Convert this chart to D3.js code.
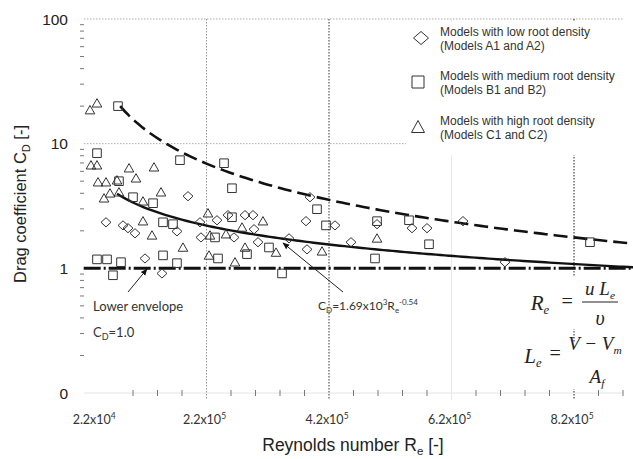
<!DOCTYPE html>
<html>
<head>
<meta charset="utf-8">
<script src="https://cdn.jsdelivr.net/npm/d3@7"></script>
<style>
  body { margin: 0; background: #fff; }
  svg { display: block; }
</style>
</head>
<body>
<svg id="chart" width="633" height="459"></svg>
<script>
// ---- measured drag coefficients -------------------------------------------
// Models A1/A2 (low root density)
const lowRe = [5.59e4, 8.37e4, 9.18e4, 1.033e5, 1.196e5, 1.473e5, 1.898e5, 1.718e5,
  2.094e5, 2.11e5, 2.371e5, 2.551e5, 2.829e5, 2.959e5, 2.649e5, 3.041e5, 2.976e5,
  3.547e5, 3.824e5, 3.841e5, 3.89e5, 4.298e5, 4.559e5, 4.984e5, 5.555e5, 5.80e5,
  6.388e5, 7.073e5];
const lowCd = [2.34, 2.21, 2.10, 1.91, 1.20, 0.91, 3.79, 1.98,
  2.34, 1.77, 2.43, 2.67, 2.67, 2.67, 1.77, 1.62, 2.06,
  1.74, 2.39, 1.42, 3.72, 2.21, 1.62, 2.26, 2.10, 2.10,
  2.39, 1.12];

// Models B1/B2 (medium root density)
const mediumRe = [7.55e4, 4.12e4, 1.767e5, 2.486e5, 2.616e5, 7.71e4, 1.0e5, 1.327e5,
  1.49e5, 1.653e5, 4.12e4, 5.76e4, 8.04e4, 6.73e4, 1.49e5, 1.718e5, 2.339e5,
  2.388e5, 2.861e5, 3.22e5, 3.433e5, 2.616e5, 4.004e5, 4.151e5, 4.984e5, 5.506e5,
  5.833e5, 4.951e5, 8.461e5];
const mediumCd = [20.0, 8.39, 7.37, 6.97, 4.39, 5.00, 3.72, 3.33,
  2.34, 2.26, 1.18, 1.18, 1.12, 0.88, 1.27, 1.10, 1.77,
  1.20, 1.30, 1.47, 0.91, 2.57, 2.98, 2.21, 2.39, 2.43,
  1.56, 1.20, 1.62];

// Models C1/C2 (high root density)
const highRe = [2.98e4, 4.12e4, 3.14e4, 4.12e4, 9.35e4, 1.343e5, 4.29e4, 5.59e4,
  7.39e4, 1.049e5, 1.457e5, 5.27e4, 6.24e4, 7.71e4, 1.163e5, 1.163e5, 1.31e5,
  1.816e5, 2.224e5, 2.257e5, 2.241e5, 2.518e5, 2.78e5, 3.122e5, 2.829e5, 2.665e5,
  3.335e5, 4.086e5, 4.984e5];
const highCd = [18.6, 21.1, 6.72, 6.72, 6.36, 6.47, 4.91, 4.91,
  5.09, 5.28, 4.08, 3.65, 4.00, 4.08, 3.45, 2.39, 1.84,
  1.47, 2.77, 1.84, 1.27, 1.88, 2.13, 2.39, 1.47, 1.12,
  1.34, 1.37, 1.74];

// ---- fitted relations ------------------------------------------------------
const fitCoef = 1.69e3, fitExp = -0.54;        // C_D = 1.69x10^3 Re^-0.54
const fitReRange = [7.4e4, 9.3e5];
const upperCoef = 2.37e6, upperExp = -1.036;   // upper envelope
const upperReRange = [7.9e4, 9.3e5];
const lowerCd = 1.0;                           // lower envelope C_D = 1.0
const lowerReRange = [1.95e4, 9.3e5];

// ---- axes ------------------------------------------------------------------
const xDomain = [2e4, 9e5];
const yDomain = [0.1, 100];
const xTickValues = [2.2e4, 2.2e5, 4.2e5, 6.2e5, 8.2e5];
const xTickBase = ["2.2x10", "2.2x10", "4.2x10", "6.2x10", "8.2x10"];
const xTickExp = ["4", "5", "5", "5", "5"];
const xMinorTicks = d3.range(1e5, 9.01e5, 4e4).filter(v => Math.abs((v - 2.2e5) % 2e5) > 1);
const yTickValues = [0.1, 1, 10, 100];
const yTickLabels = ["0", "1", "10", "100"];

const legendLines = [
  ["Models with low root density", "(Models A1 and A2)"],
  ["Models with medium root density", "(Models B1 and B2)"],
  ["Models with high root density", "(Models C1 and C2)"]
];

// ---- drawing ---------------------------------------------------------------
const svg = d3.select("#chart");
const x = d3.scaleLinear().domain(xDomain).range([84, 623]);
const y = d3.scaleLog().domain(yDomain).range([393, 19]);
const ink = "#222";

// faint base line
svg.append("line").attr("x1", 84).attr("x2", 623)
  .attr("y1", y(0.1)).attr("y2", y(0.1)).attr("stroke", "#e4e4e4").attr("stroke-width", 1);

// horizontal grid at 10 and 100
svg.append("g").selectAll("line").data([10, 100]).join("line")
  .attr("x1", 84).attr("x2", 623)
  .attr("y1", d => y(d)).attr("y2", d => y(d))
  .attr("stroke", "#aaa").attr("stroke-width", 1).attr("stroke-dasharray", "1.5,1.5");

// vertical grid
const gridStyle = { 2.2e5: "#999", 4.2e5: "#333", 6.2e5: "#e8e8e8", 8.2e5: "#222" };
svg.append("g").selectAll("line").data(xTickValues.slice(1)).join("line")
  .attr("x1", d => x(d)).attr("x2", d => x(d))
  .attr("y1", 19).attr("y2", 400)
  .attr("stroke", d => gridStyle[d]).attr("stroke-width", 1)
  .attr("stroke-dasharray", d => d === 6.2e5 ? null : "1.5,1.5");

// minor ticks
const yMinor = [];
[0.1, 1, 10].forEach(b => { for (let k = 2; k <= 9; k++) yMinor.push(b * k); });
svg.append("g").selectAll("line").data(yMinor).join("line")
  .attr("x1", 80).attr("x2", 84)
  .attr("y1", d => y(d)).attr("y2", d => y(d))
  .attr("stroke", "#777").attr("stroke-width", 1);
svg.append("g").selectAll("line").data(xMinorTicks).join("line")
  .attr("x1", d => x(d)).attr("x2", d => x(d))
  .attr("y1", 390).attr("y2", 396)
  .attr("stroke", "#777").attr("stroke-width", 1);

// y tick labels
svg.append("g").selectAll("text").data(yTickValues).join("text")
  .attr("x", 68).attr("y", d => y(d) + 5.5)
  .attr("text-anchor", "end")
  .attr("font-family", "Liberation Sans, Arial, sans-serif").attr("font-size", 15.5)
  .attr("fill", ink)
  .text((d, i) => yTickLabels[i]);

// x tick labels
const xt = svg.append("g").selectAll("text").data(xTickValues).join("text")
  .attr("x", d => x(d)).attr("y", 424)
  .attr("dx", (d, i) => i === 0 ? 9 : -2)
  .attr("text-anchor", "middle")
  .attr("font-family", "Lato, sans-serif").attr("font-size", 12.5)
  .attr("fill", "#333");
xt.append("tspan").text((d, i) => xTickBase[i]);
xt.append("tspan").attr("dy", -5).attr("font-size", 8.5).text((d, i) => xTickExp[i]);

// axis titles
const yTitle = svg.append("text")
  .attr("transform", "translate(26,204) rotate(-90)")
  .attr("text-anchor", "middle")
  .attr("font-family", "Liberation Sans, Arial, sans-serif").attr("font-size", 16.5)
  .attr("fill", ink);
yTitle.append("tspan").text("Drag coefficient C");
yTitle.append("tspan").attr("dy", 4).attr("font-size", 11).text("D");
yTitle.append("tspan").attr("dy", -4).text(" [-]");

const xTitle = svg.append("text")
  .attr("x", 353).attr("y", 451)
  .attr("text-anchor", "middle")
  .attr("font-family", "Liberation Sans, Arial, sans-serif").attr("font-size", 17.5)
  .attr("fill", ink);
xTitle.append("tspan").text("Reynolds number R");
xTitle.append("tspan").attr("dy", 4).attr("font-size", 11.5).text("e");
xTitle.append("tspan").attr("dy", -4).text(" [-]");

// legend panel
svg.append("rect").attr("x", 406).attr("y", 22).attr("width", 220).attr("height", 133)
  .attr("fill", "#fff");

// formula panels
svg.append("rect").attr("x", 520).attr("y", 277).attr("width", 106).attr("height", 52).attr("fill", "#fff");
svg.append("rect").attr("x", 515).attr("y", 343).attr("width", 111).attr("height", 46).attr("fill", "#fff");

// fitted curves
const curveLine = d3.line().x(d => x(d[0])).y(d => y(d[1]));
function sampleCurve(range, f) {
  const pts = [];
  const n = 120;
  for (let i = 0; i <= n; i++) {
    const re = range[0] + (range[1] - range[0]) * i / n;
    pts.push([re, f(re)]);
  }
  return pts;
}
svg.append("path")
  .datum([[lowerReRange[0], lowerCd], [lowerReRange[1], lowerCd]])
  .attr("d", curveLine).attr("fill", "none")
  .attr("stroke", "#111").attr("stroke-width", 3)
  .attr("stroke-dasharray", "17,3,2,3");
svg.append("path")
  .datum(sampleCurve(upperReRange, re => upperCoef * Math.pow(re, upperExp)))
  .attr("d", curveLine).attr("fill", "none")
  .attr("stroke", "#111").attr("stroke-width", 2.6)
  .attr("stroke-dasharray", "14,6");
svg.append("path")
  .datum(sampleCurve(fitReRange, re => fitCoef * Math.pow(re, fitExp)))
  .attr("d", curveLine).attr("fill", "none")
  .attr("stroke", "#111").attr("stroke-width", 2.4);

// markers
const shapes = {
  diamond: "M0,-4.6L5,0L0,4.6L-5,0Z",
  square: "M-4.3,-4.3H4.3V4.3H-4.3Z",
  triangle: "M0,-4.6L4.8,3.8H-4.8Z"
};
function drawSeries(res, cds, shape) {
  svg.append("g").selectAll("path").data(res.map((r, i) => [r, cds[i]])).join("path")
    .attr("d", shapes[shape])
    .attr("transform", d => `translate(${x(d[0])},${y(d[1])})`)
    .attr("fill", "none").attr("stroke", "#333").attr("stroke-width", 1);
}
drawSeries(lowRe, lowCd, "diamond");
drawSeries(mediumRe, mediumCd, "square");
drawSeries(highRe, highCd, "triangle");

// legend entries
const legendShapes = [
  "M0,-6.5L7.5,0L0,6.5L-7.5,0Z",
  "M-6,-6H6V6H-6Z",
  "M0,-6.5L6.5,5.5H-6.5Z"
];
const legendSymbolPos = [[421, 38], [418, 82], [418, 127]];
const legendTextTop = [36, 80, 125];
legendLines.forEach((lines, i) => {
  svg.append("path").attr("d", legendShapes[i])
    .attr("transform", `translate(${legendSymbolPos[i][0]},${legendSymbolPos[i][1]})`)
    .attr("fill", "none").attr("stroke", "#333").attr("stroke-width", 1);
  lines.forEach((t, j) => {
    svg.append("text").attr("x", 440).attr("y", legendTextTop[i] + j * 13.5)
      .attr("font-family", "Liberation Sans, Arial, sans-serif").attr("font-size", 12)
      .attr("fill", "#333").text(t);
  });
});

// annotations with arrows
svg.append("defs").append("marker")
  .attr("id", "arrow").attr("viewBox", "0 0 10 10").attr("refX", 9).attr("refY", 5)
  .attr("markerWidth", 7).attr("markerHeight", 7).attr("orient", "auto")
  .append("path").attr("d", "M0,1L10,5L0,9Z").attr("fill", "#111");

svg.append("line").attr("x1", 128).attr("y1", 292).attr("x2", 147).attr("y2", 269)
  .attr("stroke", "#222").attr("stroke-width", 1).attr("marker-end", "url(#arrow)");
svg.append("line").attr("x1", 343).attr("y1", 292).attr("x2", 283).attr("y2", 243)
  .attr("stroke", "#222").attr("stroke-width", 1).attr("marker-end", "url(#arrow)");

const annFont = "Lato, sans-serif";
svg.append("text").attr("x", 93).attr("y", 311)
  .attr("font-family", annFont).attr("font-size", 13).attr("fill", "#333")
  .text("Lower envelope");
const cd1 = svg.append("text").attr("x", 93).attr("y", 337)
  .attr("font-family", annFont).attr("font-size", 13).attr("fill", "#333");
cd1.append("tspan").text("C");
cd1.append("tspan").attr("dy", 3).attr("font-size", 9).text("D");
cd1.append("tspan").attr("dy", -3).text("=1.0");

const fitLbl = svg.append("text").attr("x", 318).attr("y", 310)
  .attr("font-family", annFont).attr("font-size", 12).attr("fill", "#333");
fitLbl.append("tspan").text("C");
fitLbl.append("tspan").attr("dy", 3).attr("font-size", 8).text("D");
fitLbl.append("tspan").attr("dy", -3).text("=1.69x10");
fitLbl.append("tspan").attr("dy", -5).attr("font-size", 8).text("3");
fitLbl.append("tspan").attr("dy", 5).text("R");
fitLbl.append("tspan").attr("dy", 3).attr("font-size", 8).text("e");
fitLbl.append("tspan").attr("dy", -8).attr("font-size", 8).text("-0.54");

// Reynolds number definitions
const serif = "Liberation Serif, DejaVu Serif, serif";
function mathText(xp, yp, parts, size) {
  const t = svg.append("text").attr("x", xp).attr("y", yp)
    .attr("font-family", serif).attr("font-style", "italic")
    .attr("font-size", size).attr("fill", "#222").attr("text-anchor", "middle");
  parts.forEach(p => {
    const s = t.append("tspan").text(p.t);
    if (p.sub) s.attr("font-size", size * 0.6).attr("dy", p.dy);
    else if (p.dy) s.attr("dy", p.dy);
  });
  return t;
}
mathText(540, 310, [{ t: "R" }, { t: "e", sub: true, dy: 4 }], 21);
mathText(567, 308, [{ t: "=" }], 20);
mathText(600, 295, [{ t: "u" }, { t: " L" }, { t: "e", sub: true, dy: 4 }], 19);
svg.append("line").attr("x1", 582).attr("x2", 618).attr("y1", 302).attr("y2", 302)
  .attr("stroke", "#222").attr("stroke-width", 1);
mathText(600, 325, [{ t: "υ" }], 20);

mathText(533, 363, [{ t: "L" }, { t: "e", sub: true, dy: 4 }], 21);
mathText(555, 360, [{ t: "=" }], 20);
mathText(595, 350, [{ t: "V" }, { t: " − V" }, { t: "m", sub: true, dy: 4 }], 19);
mathText(597, 383, [{ t: "A" }, { t: "f", sub: true, dy: 4 }], 19);
</script>
</body>
</html>
